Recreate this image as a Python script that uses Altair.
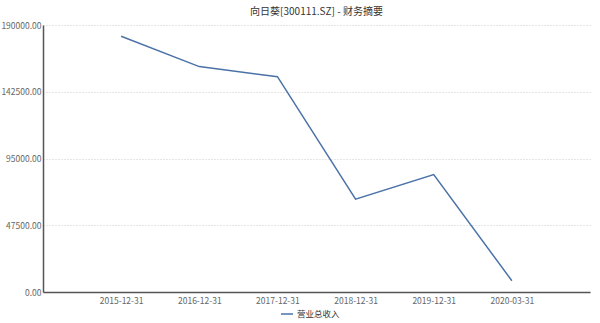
import altair as alt
import pandas as pd

# Report dates and total operating revenue
dates = ["2015-12-31", "2016-12-31", "2017-12-31", "2018-12-31", "2019-12-31", "2020-03-31"]
revenue = [182000, 160400, 153200, 66100, 83600, 8000]
series_name = "营业总收入"
y_ticks = [0, 47500, 95000, 142500, 190000]

df = pd.DataFrame({"date": dates, "value": revenue, "series": [series_name] * len(dates)})

font = "Noto Sans CJK SC"

chart = alt.Chart(df).mark_line(strokeWidth=1.5).encode(
    x=alt.X("date:O", sort=dates,
            scale=alt.Scale(type="point", padding=1),
            axis=alt.Axis(title=None, labelAngle=0, ticks=False, grid=False,
                          domainColor="#555", domainWidth=1.5,
                          labelColor="#666", labelFontSize=8.5, labelFont=font,
                          labelPadding=4)),
    y=alt.Y("value:Q",
            scale=alt.Scale(domain=[0, 190000], nice=False, zero=True),
            axis=alt.Axis(title=None, values=y_ticks, format=".2f", ticks=False,
                          domainColor="#555", domainWidth=1.5,
                          labelColor="#666", labelFontSize=8.5, labelFont=font,
                          labelPadding=2,
                          grid=True, gridColor="#cccccc", gridDash=[1, 2], gridWidth=1)),
    color=alt.Color("series:N",
                    scale=alt.Scale(range=["#4a72a8"]),
                    legend=alt.Legend(title=None, orient="none", legendX=237, legendY=282,
                                      symbolType="stroke", symbolSize=144, symbolStrokeWidth=1.5,
                                      labelFont=font, labelFontSize=8.5, labelColor="#333",
                                      labelOffset=3)),
).properties(
    width=547,
    height=267,
    title=alt.TitleParams("向日葵[300111.SZ] - 财务摘要", font=font, fontSize=10,
                          fontWeight="normal", color="#333", offset=4),
    padding={"left": 43, "top": 25, "right": 10, "bottom": 31},
    autosize=alt.AutoSizeParams(type="none"),
).configure_view(stroke=None)

chart.save("out.html", embed_options={"renderer": "svg", "actions": False})
